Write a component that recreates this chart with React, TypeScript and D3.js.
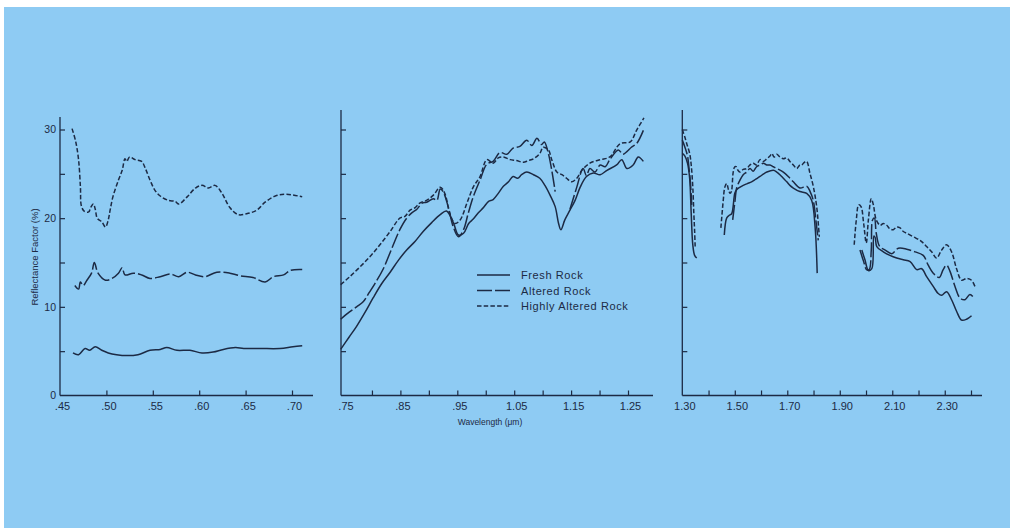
import React, { useEffect, useRef } from 'react';
import * as d3 from 'd3';

type Pt = [number, number] | null;

// reflectance factor (%) against wavelength (um); null = gap in the trace
const visFresh: Pt[] = [
  [0.464, 4.8], [0.470, 4.6], [0.477, 5.3], [0.482, 5.1], [0.488, 5.5], [0.495, 5.1],
  [0.502, 4.8], [0.511, 4.6], [0.522, 4.5], [0.534, 4.6], [0.547, 5.1], [0.558, 5.2],
  [0.565, 5.4], [0.576, 5.1], [0.590, 5.1], [0.603, 4.8], [0.615, 4.9], [0.626, 5.2],
  [0.639, 5.4], [0.648, 5.3], [0.666, 5.3], [0.687, 5.3], [0.701, 5.5], [0.711, 5.6],
];
const visAltered: Pt[] = [
  [0.466, 12.4], [0.470, 12.0], [0.472, 12.8], [0.475, 12.4], [0.479, 13.0], [0.484, 13.8],
  [0.487, 15.0], [0.491, 13.8], [0.499, 13.0], [0.506, 13.2], [0.513, 13.8], [0.517, 14.4],
  [0.520, 13.6], [0.529, 13.8], [0.538, 13.6], [0.547, 13.2], [0.558, 13.4], [0.569, 13.7],
  [0.578, 13.4], [0.587, 13.9], [0.596, 13.6], [0.606, 13.4], [0.619, 13.9], [0.633, 13.8],
  [0.644, 13.5], [0.658, 13.3], [0.671, 12.8], [0.680, 13.4], [0.691, 13.6], [0.698, 14.1],
  [0.711, 14.2],
];
const visHighly: Pt[] = [
  [0.463, 30.1], [0.467, 28.6], [0.470, 26.6], [0.472, 23.5], [0.473, 21.4], [0.476, 20.8],
  [0.481, 20.7], [0.483, 21.2], [0.486, 21.6], [0.488, 21.0], [0.490, 20.0], [0.492, 19.8],
  [0.495, 19.6], [0.499, 19.0], [0.502, 19.8], [0.504, 20.9], [0.507, 22.4], [0.513, 24.3],
  [0.517, 25.4], [0.520, 26.7], [0.522, 26.4], [0.525, 26.9], [0.531, 26.6], [0.538, 26.4],
  [0.542, 25.6], [0.547, 24.3], [0.552, 23.2], [0.558, 22.5], [0.567, 22.0], [0.574, 21.9],
  [0.578, 21.6], [0.587, 22.4], [0.596, 23.4], [0.603, 23.7], [0.610, 23.4], [0.617, 23.7],
  [0.624, 22.9], [0.633, 21.2], [0.642, 20.4], [0.651, 20.5], [0.662, 20.9], [0.671, 21.8],
  [0.682, 22.5], [0.694, 22.7], [0.711, 22.4],
];

const nirFresh: Pt[] = [
  [0.745, 5.2], [0.760, 6.6], [0.773, 7.8], [0.788, 9.4], [0.802, 11.0], [0.817, 12.6],
  [0.832, 13.9], [0.847, 15.3], [0.861, 16.4], [0.876, 17.4], [0.890, 18.5], [0.905, 19.5],
  [0.920, 20.4], [0.931, 20.8], [0.943, 19.5], [0.952, 18.1], [0.961, 18.3], [0.970, 19.4],
  [0.978, 19.9], [0.987, 20.6], [0.996, 21.2], [1.005, 21.9], [1.013, 22.1], [1.022, 22.8],
  [1.031, 23.6], [1.040, 24.1], [1.048, 24.7], [1.056, 24.5], [1.063, 24.9], [1.072, 25.2],
  [1.084, 24.9], [1.095, 24.5], [1.104, 23.7], [1.113, 22.6], [1.122, 21.3], [1.128, 19.4],
  [1.132, 18.7], [1.139, 19.8], [1.148, 20.9], [1.157, 22.0], [1.166, 23.5], [1.177, 24.7],
  [1.189, 25.1], [1.201, 24.9], [1.213, 25.4], [1.230, 26.0], [1.239, 26.6], [1.248, 25.6],
  [1.259, 26.0], [1.268, 26.9], [1.277, 26.4],
];
const nirAltered: Pt[] = [
  [0.745, 8.6], [0.760, 9.4], [0.773, 10.0], [0.785, 10.6], [0.795, 11.6], [0.805, 12.6],
  [0.820, 14.3], [0.835, 16.6], [0.849, 18.7], [0.861, 20.0], [0.870, 20.6], [0.879, 21.0],
  [0.888, 21.7], [0.896, 21.8], [0.908, 22.2], [0.914, 22.0], [0.920, 23.3], [0.925, 23.0],
  [0.934, 21.3], [0.943, 19.0], [0.952, 17.9], [0.961, 18.7], [0.969, 20.5], [0.978, 22.4],
  [0.990, 24.3], [1.002, 26.1], [1.013, 26.4], [1.025, 27.4], [1.037, 27.2], [1.048, 27.9],
  [1.060, 28.1], [1.072, 28.8], [1.081, 28.2], [1.090, 29.0], [1.098, 28.3], [1.103, 28.6],
  [1.110, 27.3], [1.116, 25.4], [1.122, 23.0], null,
  [1.148, 21.0], [1.160, 23.5], [1.171, 25.6], [1.177, 24.8], [1.183, 25.6], [1.192, 25.2],
  [1.201, 26.0], [1.210, 25.8], [1.218, 26.6], [1.233, 27.7], [1.241, 27.2], [1.248, 27.5],
  [1.256, 28.0], [1.265, 28.4], [1.277, 29.9],
];
const nirHighly: Pt[] = [
  [0.745, 12.5], [0.761, 13.4], [0.779, 14.5], [0.797, 15.7], [0.814, 17.0], [0.832, 18.5],
  [0.849, 20.0], [0.858, 20.2], [0.867, 20.9], [0.876, 21.2], [0.884, 21.7], [0.896, 22.0],
  [0.908, 22.6], [0.920, 23.5], [0.928, 22.8], [0.937, 20.5], [0.946, 19.4], [0.955, 19.8],
  [0.967, 21.7], [0.978, 23.5], [0.990, 24.7], [1.002, 26.6], [1.013, 26.2], [1.022, 26.8],
  [1.031, 26.9], [1.043, 26.6], [1.054, 26.5], [1.066, 26.3], [1.075, 26.5], [1.084, 26.7],
  [1.095, 27.3], [1.101, 28.0], [1.110, 27.7], [1.116, 26.6], [1.125, 25.2], [1.134, 24.9],
  [1.142, 24.5], [1.151, 24.1], [1.160, 24.5], [1.169, 25.4], [1.183, 26.2], [1.201, 26.6],
  [1.218, 26.9], [1.236, 28.4], [1.254, 28.6], [1.265, 29.9], [1.278, 31.3],
];

const swirFresh: Pt[] = [
  [1.300, 27.3], [1.310, 27.0], [1.320, 26.2], [1.328, 24.5], [1.334, 20.5], [1.340, 17.0],
  [1.347, 15.8], [1.355, 15.5], null,
  [1.460, 18.1], [1.469, 20.0], [1.478, 20.3], [1.488, 20.5], [1.500, 22.8], [1.507, 23.2],
  [1.520, 23.5], [1.532, 23.7], [1.548, 23.9], [1.564, 24.1], [1.580, 24.4], [1.596, 24.7],
  [1.610, 25.0], [1.622, 25.2], [1.647, 25.4], [1.660, 25.2], [1.672, 24.9], [1.685, 24.5],
  [1.698, 24.1], [1.710, 23.7], [1.723, 23.4], [1.748, 23.0], [1.774, 22.8], [1.793, 22.0],
  [1.806, 19.0], [1.814, 13.8], null,
  [1.984, 16.4], [1.996, 15.3], [2.009, 14.1], [2.022, 14.3], [2.030, 18.0], [2.035, 17.8],
  [2.041, 16.8], [2.066, 16.2], [2.091, 15.8], [2.117, 15.5], [2.142, 15.3], [2.168, 15.1],
  [2.193, 14.2], [2.212, 14.3], [2.231, 13.4], [2.256, 12.3], [2.275, 11.5], [2.288, 11.3],
  [2.307, 11.7], [2.326, 10.8], [2.345, 9.5], [2.364, 8.5], [2.383, 8.6], [2.402, 9.0],
];
const swirAltered: Pt[] = [
  [1.300, 28.8], [1.310, 28.0], [1.320, 27.0], [1.326, 25.5], [1.331, 24.0], [1.336, 21.5], null,
  [1.492, 19.8], [1.501, 22.0], [1.507, 23.4], [1.520, 24.3], [1.532, 24.9], [1.545, 25.2],
  [1.558, 25.6], [1.570, 25.3], [1.583, 25.8], [1.596, 26.0], [1.609, 26.2], [1.622, 26.0],
  [1.634, 26.0], [1.647, 25.8], [1.660, 25.6], [1.685, 25.2], [1.710, 24.5], [1.723, 24.1],
  [1.748, 23.4], [1.774, 23.6], [1.787, 23.0], [1.799, 22.0], [1.810, 19.5], [1.818, 17.5], null,
  [1.977, 16.4], [1.991, 15.1], [2.002, 14.2], [2.012, 14.2], [2.020, 16.4], [2.025, 19.8],
  [2.032, 20.0], [2.039, 18.3], [2.052, 16.8], [2.073, 16.4], [2.098, 16.0], [2.123, 16.6],
  [2.155, 16.5], [2.187, 16.2], [2.218, 15.8], [2.237, 14.7], [2.256, 13.8], [2.279, 13.3],
  [2.294, 14.2], [2.307, 14.7], [2.320, 14.0], [2.339, 12.3], [2.358, 11.0], [2.377, 10.8],
  [2.396, 11.4], [2.411, 11.0],
];
const swirHighly: Pt[] = [
  [1.300, 30.0], [1.309, 29.2], [1.317, 28.4], [1.328, 27.3], [1.334, 26.0], [1.340, 23.5],
  [1.344, 20.5], [1.347, 18.5], [1.349, 16.8], null,
  [1.447, 18.9], [1.456, 22.0], [1.462, 23.5], [1.469, 23.9], [1.476, 23.2], [1.482, 22.8],
  [1.487, 23.0], [1.494, 25.2], [1.500, 25.8], [1.505, 25.8], [1.512, 25.4], [1.520, 25.2],
  [1.532, 25.5], [1.545, 25.6], [1.558, 26.0], [1.570, 26.2], [1.583, 26.0], [1.596, 26.6],
  [1.609, 26.4], [1.622, 26.7], [1.634, 27.0], [1.641, 27.3], [1.650, 26.9], [1.660, 27.2],
  [1.672, 26.9], [1.685, 26.7], [1.698, 26.8], [1.710, 26.4], [1.723, 26.0], [1.736, 25.6],
  [1.748, 26.0], [1.755, 26.0], [1.765, 26.3], [1.774, 26.4], [1.786, 25.1], [1.799, 23.6],
  [1.812, 21.3], [1.822, 17.9], null,
  [1.955, 17.0], [1.963, 19.8], [1.972, 21.5], [1.981, 21.3], [1.991, 19.4], [2.001, 17.2],
  [2.009, 19.8], [2.020, 22.2], [2.028, 21.5], [2.039, 19.8], [2.054, 19.2], [2.066, 19.4],
  [2.079, 19.2], [2.091, 18.8], [2.104, 18.7], [2.117, 19.0], [2.130, 18.9], [2.142, 18.5],
  [2.155, 18.3], [2.180, 17.9], [2.206, 17.5], [2.218, 17.2], [2.231, 16.8], [2.250, 16.2],
  [2.269, 15.5], [2.288, 16.4], [2.307, 17.0], [2.326, 16.2], [2.345, 14.3], [2.364, 13.0],
  [2.383, 13.2], [2.402, 13.0], [2.415, 12.3],
];

const leftTicks = [0.45, 0.5, 0.55, 0.6, 0.65, 0.7];
const leftLabels = [0.45, 0.5, 0.55, 0.6, 0.65, 0.7];
const midTicks = [0.75, 0.8, 0.85, 0.9, 0.95, 1.0, 1.05, 1.1, 1.15, 1.2, 1.25];
const midLabels = [0.75, 0.85, 0.95, 1.05, 1.15, 1.25];
const rightTicks = [1.3, 1.4, 1.5, 1.6, 1.7, 1.8, 1.9, 2.0, 2.1, 2.2, 2.3, 2.4];
const rightLabels = [1.3, 1.5, 1.7, 1.9, 2.1, 2.3];
const yTicks = [0, 5, 10, 15, 20, 25, 30];
const yLabels = [0, 10, 20, 30];

const seriesNames = ['Fresh Rock', 'Altered Rock', 'Highly Altered Rock'];
const seriesDash = ['none', '15,3', '4.5,2.2'];

const INK = '#1c2a44';
const BLUE = '#8ecbf3';
const FONT = '"Liberation Sans", Arial, Helvetica, sans-serif';

const fmt = (v: number) => {
  const s = d3.format('.2f')(v);
  return v < 1 ? s.replace(/^0/, '') : s;
};

export default function App() {
  const svgRef = useRef<SVGSVGElement>(null);

  useEffect(() => {
    const svg = d3.select(svgRef.current);
    svg.selectAll('*').remove();

    // paper + blue plate
    svg.append('rect').attr('width', 1012).attr('height', 528).attr('fill', '#ffffff');
    svg.append('rect').attr('x', 4).attr('y', 7).attr('width', 1006).attr('height', 521).attr('fill', BLUE);

    const y = d3.scaleLinear().domain([0, 30]).range([395.5, 129.5]);

    const panels = [
      { dom: [0.45, 0.7], rng: [60, 292], ax: 60, end: 313, top: 117, ticks: leftTicks, labels: leftLabels, showY: true,
        data: [visFresh, visAltered, visHighly] },
      { dom: [0.75, 1.25], rng: [343.5, 628], ax: 341, end: 653, top: 110, ticks: midTicks, labels: midLabels, showY: false,
        data: [nirFresh, nirAltered, nirHighly] },
      { dom: [1.3, 2.4], rng: [682.3, 971], ax: 682.3, end: 982, top: 110, ticks: rightTicks, labels: rightLabels, showY: false,
        data: [swirFresh, swirAltered, swirHighly] },
    ];

    panels.forEach(p => {
      const x = d3.scaleLinear().domain(p.dom).range(p.rng);
      const g = svg.append('g');

      // axis lines
      g.append('line')
        .attr('x1', p.ax).attr('x2', p.ax).attr('y1', y(0)).attr('y2', p.top)
        .attr('stroke', INK).attr('stroke-width', 1.3);
      g.append('line')
        .attr('x1', p.ax).attr('x2', p.end).attr('y1', y(0)).attr('y2', y(0))
        .attr('stroke', INK).attr('stroke-width', 1.3);

      const xg = g.append('g')
        .attr('transform', `translate(0,${y(0)})`)
        .call(d3.axisBottom(x)
          .tickValues(p.ticks)
          .tickSize(-5)
          .tickSizeOuter(0)
          .tickPadding(7)
          .tickFormat((d: any) => (p.labels.includes(d) ? fmt(d) : '')));
      xg.select('.domain').remove();
      xg.selectAll('.tick line').filter((d: any) => d === p.dom[0]).remove();
      xg.selectAll('.tick line').attr('stroke', INK).attr('stroke-width', 1.2);
      xg.selectAll('.tick text')
        .attr('dx', 2)
        .attr('fill', INK)
        .style('font-family', FONT).style('font-size', '11px');

      const yg = g.append('g')
        .attr('transform', `translate(${p.ax},0)`)
        .call(d3.axisLeft(y)
          .tickValues(yTicks)
          .tickSize(-5)
          .tickSizeOuter(0)
          .tickPadding(4)
          .tickFormat((d: any) => (p.showY && yLabels.includes(d) ? String(d) : '')));
      yg.select('.domain').remove();
      yg.selectAll('.tick line').filter((d: any) => d === 0).remove();
      yg.selectAll('.tick line').attr('stroke', INK).attr('stroke-width', 1.2);
      yg.selectAll('.tick text').attr('fill', INK).style('font-family', FONT).style('font-size', '10.5px');

      const line = d3.line<Pt>()
        .defined(d => d !== null)
        .x(d => x((d as [number, number])[0]))
        .y(d => y((d as [number, number])[1]))
        .curve(d3.curveCatmullRom.alpha(0.5));

      p.data.forEach((series, i) => {
        g.append('path')
          .attr('d', line(series))
          .attr('fill', 'none')
          .attr('stroke', INK)
          .attr('stroke-width', 1.5)
          .attr('stroke-linejoin', 'round')
          .attr('stroke-dasharray', seriesDash[i]);
      });
    });

    // axis titles
    svg.append('text')
      .attr('transform', 'translate(38,257) rotate(-90)')
      .attr('text-anchor', 'middle')
      .attr('fill', INK)
      .style('font-family', FONT).style('font-size', '9.5px')
      .text('Reflectance Factor (%)');
    svg.append('text')
      .attr('x', 490).attr('y', 425)
      .attr('text-anchor', 'middle')
      .attr('fill', INK)
      .style('font-family', FONT).style('font-size', '8.5px')
      .text('Wavelength (μm)');

    // legend
    const lg = svg.append('g');
    seriesNames.forEach((name, i) => {
      const ly = 275 + i * 15.5;
      lg.append('line')
        .attr('x1', 477).attr('x2', 510).attr('y1', ly).attr('y2', ly)
        .attr('stroke', INK).attr('stroke-width', 1.5)
        .attr('stroke-dasharray', seriesDash[i]);
      lg.append('text')
        .attr('x', 521).attr('y', ly + 4)
        .attr('fill', INK)
        .style('font-family', FONT).style('font-size', '11px').style('letter-spacing', '0.6px')
        .text(name);
    });
  }, []);

  return (
    <svg ref={svgRef} width={1012} height={528} style={{ position: 'absolute', left: 0, top: 0 }} />
  );
}
